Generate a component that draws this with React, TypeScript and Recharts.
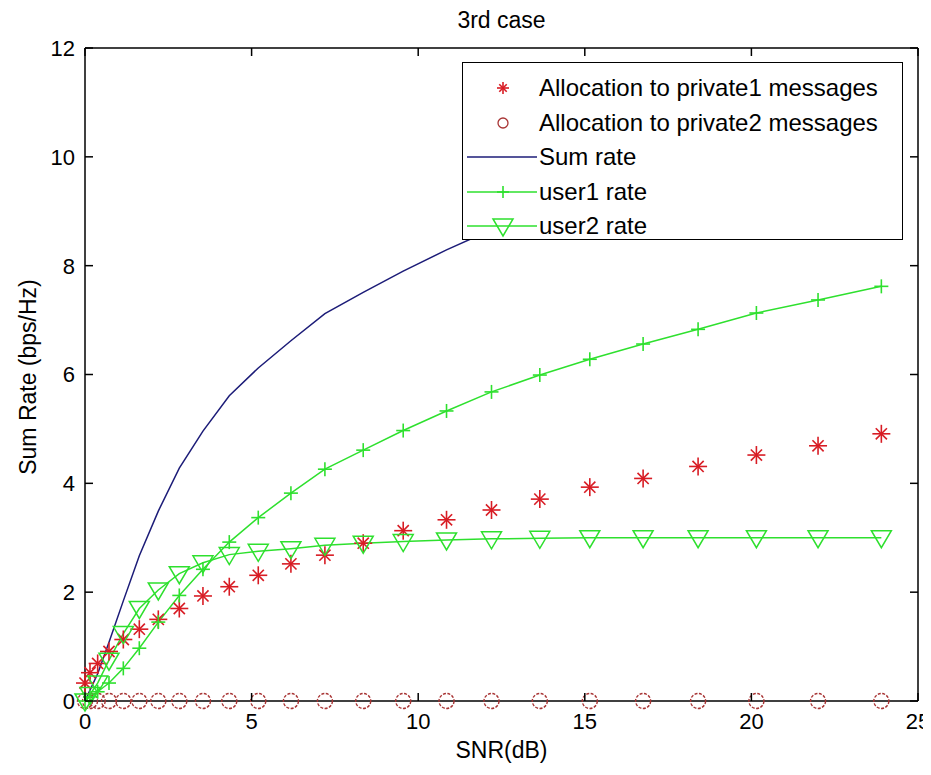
import React from 'react';
import { ComposedChart, Line, XAxis, YAxis, Legend } from 'recharts';

// SNR grid (dB) shared by every series
const snr = [0, 0.15, 0.38, 0.72, 1.15, 1.63, 2.2, 2.83, 3.54, 4.33, 5.2, 6.18, 7.2, 8.35, 9.55, 10.85, 12.2, 13.65, 15.15, 16.75, 18.4, 20.15, 22.0, 23.9];
const private1 = [0.33, 0.52, 0.69, 0.91, 1.13, 1.32, 1.5, 1.7, 1.93, 2.1, 2.31, 2.52, 2.68, 2.9, 3.13, 3.33, 3.51, 3.71, 3.93, 4.09, 4.31, 4.52, 4.69, 4.91];
const private2 = [0, 0, 0, 0, 0, 0, 0, 0, 0, 0, 0, 0, 0, 0, 0, 0, 0, 0, 0, 0, 0, 0, 0, 0];
const sumRate = [0, 0.2, 0.5, 1.08, 1.84, 2.67, 3.49, 4.28, 4.96, 5.61, 6.12, 6.62, 7.12, 7.51, 7.9, 8.29, 8.66, 8.98, 9.28, 9.56, 9.83, 10.13, 10.37, 10.62];
const user1 = [0, 0.08, 0.17, 0.33, 0.6, 0.97, 1.45, 1.94, 2.42, 2.92, 3.37, 3.82, 4.26, 4.61, 4.97, 5.33, 5.68, 5.99, 6.28, 6.56, 6.83, 7.13, 7.37, 7.62];
const user2 = [0, 0.12, 0.33, 0.75, 1.24, 1.7, 2.04, 2.34, 2.54, 2.69, 2.75, 2.8, 2.86, 2.9, 2.93, 2.96, 2.98, 2.99, 3, 3, 3, 3, 3, 3];

const xTicks = [0, 5, 10, 15, 20, 25];
const yTicks = [0, 2, 4, 6, 8, 10, 12];

const legendLabels = [
  'Allocation to private1 messages',
  'Allocation to private2 messages',
  'Sum rate',
  'user1 rate',
  'user2 rate',
];

const rows = snr.map((s, i) => ({
  snr: s,
  p1: private1[i],
  p2: private2[i],
  sum: sumRate[i],
  u1: user1[i],
  u2: user2[i],
}));

// plot box in chart coords (chart sits at the body's 8px margin)
const W = 940;
const H = 767;
const PL = 77;
const PR = 910;
const PT = 40;
const PB = 693;

const FONT = '"Liberation Sans", Arial, sans-serif';
const FS = 23;
const TICK_FS = 22;

const RED = '#d81c24';
const DARKRED = '#a83434';
const GREEN = '#2ee02e';
const NAVY = '#1c1c78';

const star = (cx: number, cy: number, color: string, r = 9) => {
  const d = r * 0.62;
  return (
    <g stroke={color} strokeWidth={1.6}>
      <line x1={cx - r} y1={cy} x2={cx + r} y2={cy} />
      <line x1={cx} y1={cy - r} x2={cx} y2={cy + r} />
      <line x1={cx - d} y1={cy - d} x2={cx + d} y2={cy + d} />
      <line x1={cx - d} y1={cy + d} x2={cx + d} y2={cy - d} />
    </g>
  );
};

const plus = (cx: number, cy: number, color: string, r = 7) => (
  <g stroke={color} strokeWidth={1.6}>
    <line x1={cx - r} y1={cy} x2={cx + r} y2={cy} />
    <line x1={cx} y1={cy - r} x2={cx} y2={cy + r} />
  </g>
);

const triDown = (cx: number, cy: number, color: string) => (
  <path d={`M${cx - 10},${cy - 7} L${cx + 10},${cy - 7} L${cx},${cy + 10} Z`} fill="none" stroke={color} strokeWidth={1.5} />
);

const StarDot = (p: any) => <g key={`s${p.index}`}>{star(p.cx, p.cy, RED)}</g>;
const CircleDot = (p: any) => (
  <circle key={`c${p.index}`} cx={p.cx} cy={p.cy} r={7.5} fill="none" stroke={DARKRED} strokeWidth={1.4} strokeDasharray="3 1.5" />
);
const PlusDot = (p: any) => <g key={`p${p.index}`}>{plus(p.cx, p.cy, GREEN)}</g>;
const TriDot = (p: any) => <g key={`t${p.index}`}>{triDown(p.cx, p.cy, GREEN)}</g>;

const BottomTick = (p: any) => (
  <g>
    <line x1={p.x} x2={p.x} y1={PB} y2={PB - 8} stroke="#000" strokeWidth={1.5} />
    <text x={p.x} y={PB + 28} textAnchor="middle" fontFamily={FONT} fontSize={TICK_FS} fill="#000">
      {p.payload.value}
    </text>
  </g>
);

const LeftTick = (p: any) => (
  <g>
    <line x1={PL} x2={PL + 8} y1={p.y} y2={p.y} stroke="#000" strokeWidth={1.5} />
    <text x={PL - 10} y={p.y} dy="0.36em" textAnchor="end" fontFamily={FONT} fontSize={TICK_FS} fill="#000">
      {p.payload.value}
    </text>
  </g>
);

const TopTick = (p: any) => (
  <line x1={p.x} x2={p.x} y1={PT} y2={PT + 8} stroke="#000" strokeWidth={1.5} />
);

const RightTick = (p: any) => (
  <line x1={PR} x2={PR - 8} y1={p.y} y2={p.y} stroke="#000" strokeWidth={1.5} />
);

const legendIcons = [
  () => star(36, 12, RED, 6),
  () => <circle cx={36} cy={12} r={5} fill="none" stroke={DARKRED} strokeWidth={1.3} />,
  () => <line x1={0} x2={70} y1={12} y2={12} stroke={NAVY} strokeWidth={1.5} />,
  () => (
    <g>
      <line x1={0} x2={70} y1={12} y2={12} stroke={GREEN} strokeWidth={1.5} />
      {plus(36, 12, GREEN, 6)}
    </g>
  ),
  () => (
    <g>
      <line x1={0} x2={70} y1={12} y2={12} stroke={GREEN} strokeWidth={1.5} />
      {triDown(36, 12, GREEN)}
    </g>
  ),
];

const LegendBox = () => (
  <div
    style={{
      width: 441,
      height: 178,
      boxSizing: 'border-box',
      border: '1.5px solid #000',
      background: '#fff',
      padding: '8px 0 0 0',
      fontFamily: FONT,
      fontSize: 24,
      color: '#000',
    }}
  >
    {legendLabels.map((label, i) => (
      <div key={label} style={{ display: 'flex', alignItems: 'center', height: 34.5 }}>
        <svg width={72} height={24} style={{ marginLeft: 4, marginRight: 0 }}>
          {legendIcons[i]()}
        </svg>
        <span style={{ whiteSpace: 'pre' }}>{label}</span>
      </div>
    ))}
  </div>
);

const App: React.FC = () => {
  return (
    <div style={{ position: 'relative', width: W, height: H, background: '#fff' }}>
      <style>{'html, body { overflow: hidden; }'}</style>
      <ComposedChart
        width={W}
        height={H}
        data={rows}
        margin={{ top: PT - 1, right: W - PR - 1, bottom: 0, left: 0 }}
      >
        <XAxis
          dataKey="snr"
          type="number"
          domain={[0, 25]}
          ticks={xTicks}
          interval={0}
          height={H - PB}
          axisLine={{ stroke: '#000', strokeWidth: 1.5 }}
          tickLine={false}
          tick={BottomTick}
        />
        <XAxis
          xAxisId="top"
          dataKey="snr"
          orientation="top"
          type="number"
          domain={[0, 25]}
          ticks={xTicks}
          interval={0}
          height={1}
          axisLine={{ stroke: '#000', strokeWidth: 1.5 }}
          tickLine={false}
          tick={TopTick}
        />
        <YAxis
          type="number"
          domain={[0, 12]}
          ticks={yTicks}
          interval={0}
          width={PL}
          axisLine={{ stroke: '#000', strokeWidth: 1.5 }}
          tickLine={false}
          tick={LeftTick}
        />
        <YAxis
          yAxisId="right"
          orientation="right"
          type="number"
          domain={[0, 12]}
          ticks={yTicks}
          interval={0}
          width={1}
          axisLine={{ stroke: '#000', strokeWidth: 1.5 }}
          tickLine={false}
          tick={RightTick}
        />
        <Line type="linear" dataKey="p1" stroke="none" dot={StarDot} activeDot={false} isAnimationActive={false} />
        <Line type="linear" dataKey="p2" stroke="none" dot={CircleDot} activeDot={false} isAnimationActive={false} />
        <Line type="linear" dataKey="sum" stroke={NAVY} strokeWidth={1.5} dot={false} activeDot={false} isAnimationActive={false} />
        <Line type="linear" dataKey="u1" stroke={GREEN} strokeWidth={1.5} dot={PlusDot} activeDot={false} isAnimationActive={false} />
        <Line type="linear" dataKey="u2" stroke={GREEN} strokeWidth={1.5} dot={TriDot} activeDot={false} isAnimationActive={false} />
        {/* phantom series so the top/right axes get drawn */}
        <Line xAxisId="top" yAxisId="right" type="linear" dataKey="u2" stroke="none" dot={false} activeDot={false} legendType="none" isAnimationActive={false} />
        <Legend
          layout="vertical"
          align="center"
          verticalAlign="middle"
          wrapperStyle={{ left: 454, top: 54, width: 441 }}
          content={() => <LegendBox />}
        />
      </ComposedChart>
      <div
        style={{
          position: 'absolute',
          left: PL,
          width: PR - PL,
          top: 0,
          lineHeight: '24px',
          textAlign: 'center',
          fontFamily: FONT,
          fontSize: FS,
          color: '#000',
        }}
      >
        3rd case
      </div>
      <div
        style={{
          position: 'absolute',
          left: PL,
          width: PR - PL,
          top: 730,
          lineHeight: '24px',
          textAlign: 'center',
          fontFamily: FONT,
          fontSize: FS,
          color: '#000',
        }}
      >
        SNR(dB)
      </div>
      <div
        style={{
          position: 'absolute',
          left: 20,
          top: 369,
          transform: 'translate(-50%, -50%) rotate(-90deg)',
          whiteSpace: 'nowrap',
          lineHeight: '24px',
          fontFamily: FONT,
          fontSize: FS,
          color: '#000',
        }}
      >
        Sum Rate (bps/Hz)
      </div>
    </div>
  );
};

export default App;
